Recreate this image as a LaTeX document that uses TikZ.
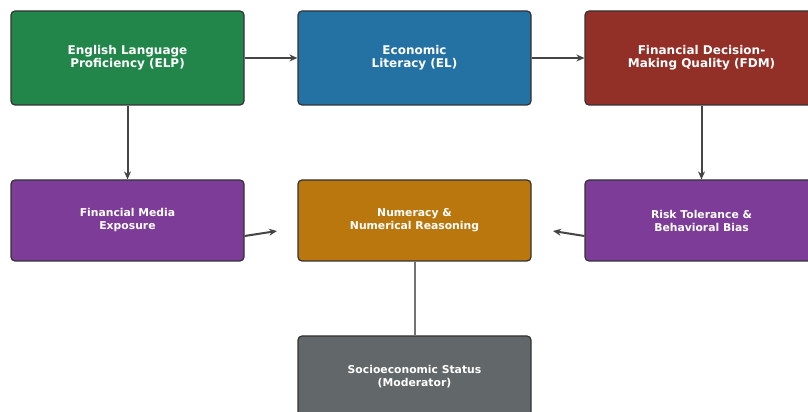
\documentclass[tikz,border=0pt]{standalone}
\usepackage{fontspec}
\setmainfont{DejaVu Sans}
\usetikzlibrary{arrows.meta}
\definecolor{cgreen}{HTML}{22864B}
\definecolor{cblue}{HTML}{2471A3}
\definecolor{cred}{HTML}{922F27}
\definecolor{cpurple}{HTML}{7D3C98}
\definecolor{corange}{HTML}{B9770E}
\definecolor{cgray}{HTML}{626869}
\definecolor{cline}{HTML}{454545}
\tikzset{
  box/.style={draw=black!80, line width=1.2pt, rounded corners=4pt, minimum width=233pt, text=white, font=\bfseries, align=center, inner sep=0pt},
  bigbox/.style={box, minimum height=94pt, font=\fontsize{12}{13}\selectfont\bfseries},
  midbox/.style={box, minimum height=81pt, font=\fontsize{10.8}{13}\selectfont\bfseries},
  conn/.style={draw=cline, line width=2pt, -{Stealth[length=8pt,width=7pt]}},
}
\begin{document}
\begin{tikzpicture}[x=1pt,y=1pt]
\useasboundingbox (0,0) rectangle (808,412);
\node[bigbox, fill=cgreen] (elp) at (127.5,354) {English Language\\Proficiency (ELP)};
\node[bigbox, fill=cblue] (el) at (414.5,354) {Economic\\Literacy (EL)};
\node[bigbox, fill=cred] (fdm) at (701.5,354) {Financial Decision-\\Making Quality (FDM)};
\node[midbox, fill=cpurple] (fme) at (127.5,191.5) {Financial Media\\Exposure};
\node[midbox, fill=corange] (num) at (414.5,191.5) {Numeracy \&\\Numerical Reasoning};
\node[midbox, fill=cpurple] (risk) at (701.5,191.5) {Risk Tolerance \&\\Behavioral Bias};
\node[midbox, fill=cgray] (ses) at (414.5,35.5) {Socioeconomic Status\\(Moderator)};
\coordinate (a1) at (277,181);
\coordinate (a2) at (553,181);
\draw[conn] (elp.east) -- (el.west);
\draw[conn] (el.east) -- (fdm.west);
\draw[conn] (elp.south) -- (fme.north);
\draw[conn] (fdm.south) -- (risk.north);
\draw[conn] ([yshift=-15.5pt]fme.east) -- (a1);
\draw[conn] ([yshift=-15.5pt]risk.west) -- (a2);
\draw[draw=black!55, line width=2pt] (num.south) -- (ses.north);
\end{tikzpicture}
\end{document}
